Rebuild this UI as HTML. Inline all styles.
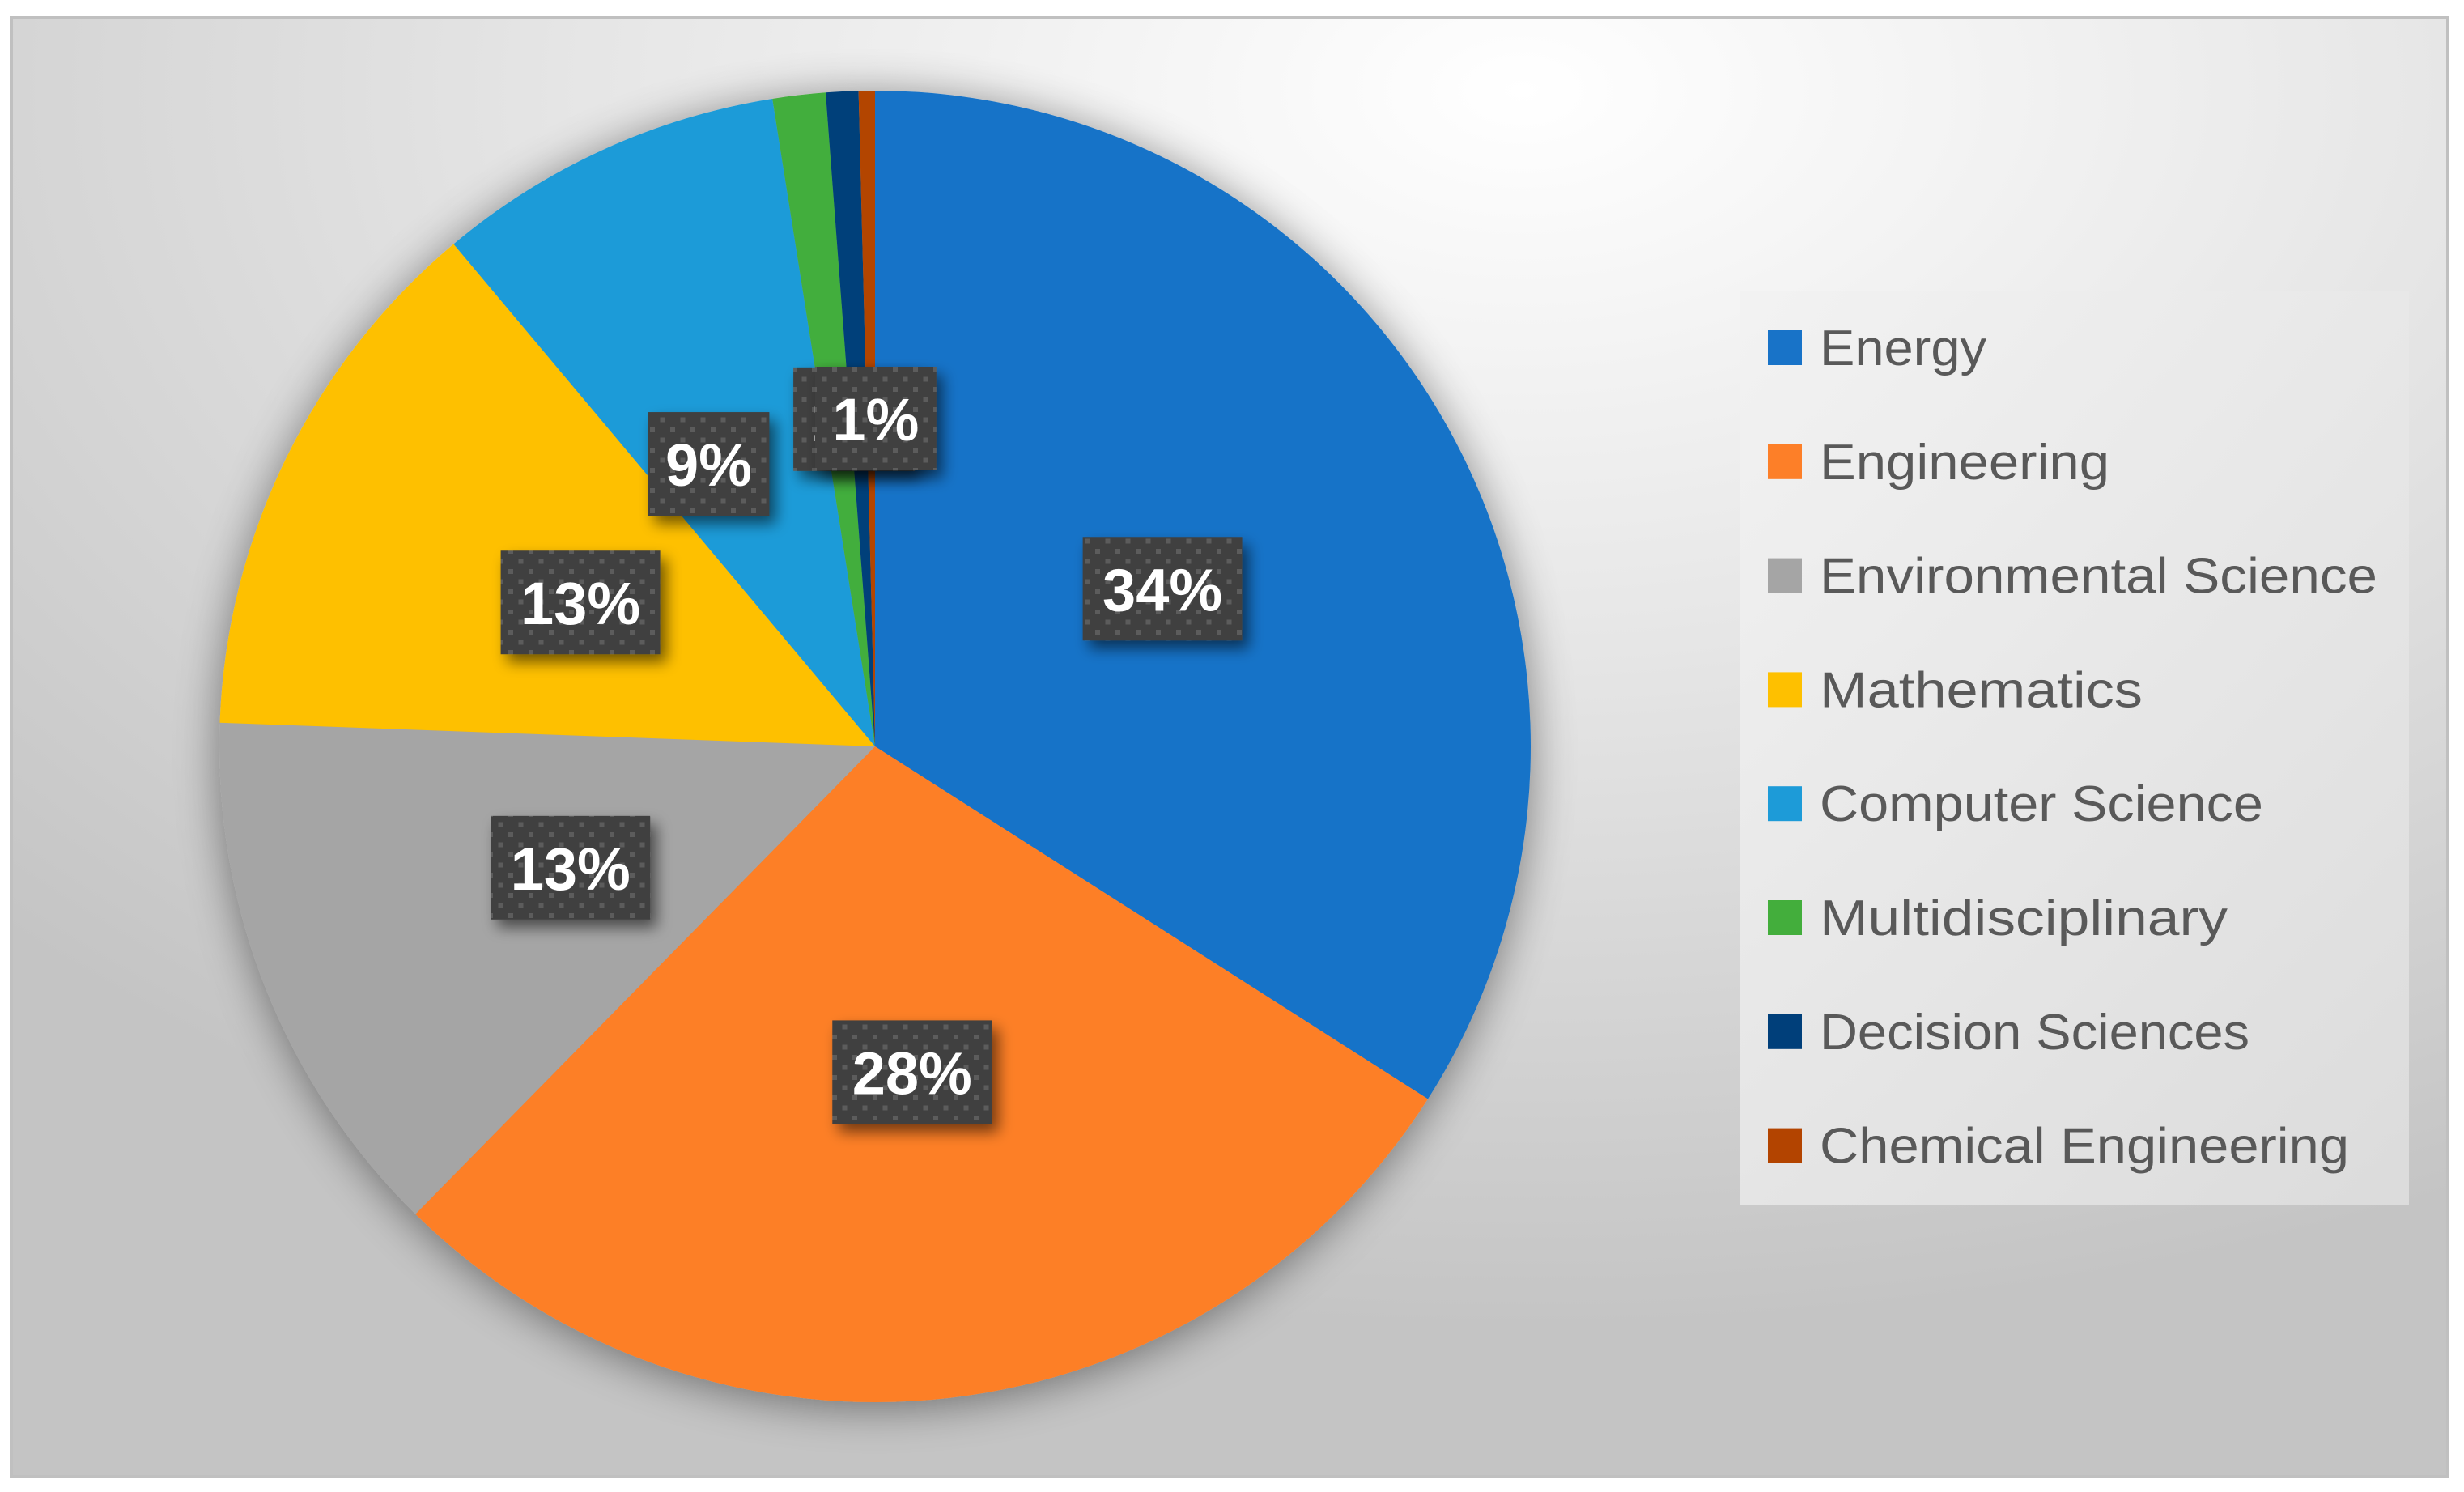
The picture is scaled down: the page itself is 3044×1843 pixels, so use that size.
<!DOCTYPE html>
<html><head><meta charset="utf-8"><style>
html,body{margin:0;padding:0;background:#fff;}
svg{display:block;}
</style></head><body>
<svg width="3044" height="1843" viewBox="0 0 3044 1843" xmlns="http://www.w3.org/2000/svg">
<defs>
<radialGradient id="bg" cx="0.62" cy="0.05" r="0.85" gradientUnits="objectBoundingBox">
<stop offset="0" stop-color="#ffffff"/><stop offset="0.45" stop-color="#e6e6e6"/><stop offset="1" stop-color="#c4c4c4"/>
</radialGradient>
<linearGradient id="lg" x1="0" y1="0" x2="1" y2="1">
<stop offset="0" stop-color="#f2f2f2" stop-opacity="0.9"/><stop offset="1" stop-color="#dedede" stop-opacity="0.9"/>
</linearGradient>
<filter id="pieShadow" x="-20%" y="-20%" width="140%" height="140%">
<feGaussianBlur in="SourceAlpha" stdDeviation="28"/><feOffset dx="0" dy="6"/>
<feComponentTransfer><feFuncA type="linear" slope="0.45"/></feComponentTransfer>
<feMerge><feMergeNode/><feMergeNode in="SourceGraphic"/></feMerge>
</filter>
<filter id="lblShadow" x="-30%" y="-30%" width="160%" height="160%">
<feGaussianBlur in="SourceAlpha" stdDeviation="9"/><feOffset dx="8" dy="10"/>
<feComponentTransfer><feFuncA type="linear" slope="0.55"/></feComponentTransfer>
<feMerge><feMergeNode/><feMergeNode in="SourceGraphic"/></feMerge>
</filter>
<pattern id="dots" width="25" height="25" patternUnits="userSpaceOnUse">
<rect width="25" height="25" fill="#404040"/>
<rect x="3" y="3" width="6" height="6" fill="#5c5c5c"/>
<rect x="15.5" y="15.5" width="6" height="6" fill="#5c5c5c"/>
</pattern>
</defs>
<rect x="14" y="22" width="3010" height="1802" fill="url(#bg)" stroke="#c0c0c0" stroke-width="4"/>
<g id="pie" filter="url(#pieShadow)"></g>
<g id="labels"></g>
<rect x="2149" y="360" width="827" height="1128" fill="url(#lg)"/>
<g id="legend"></g>
</svg>
<script>
const categories = ["Energy","Engineering","Environmental Science","Mathematics","Computer Science","Multidisciplinary","Decision Sciences","Chemical Engineering"];
const values = [34.0, 28.3, 13.2, 13.3, 8.6, 1.3, 0.8, 0.4];
const colors = ["#1873c8","#fd7f28","#a5a5a5","#fec000","#1d9bd8","#43ae3c","#003f7a","#b34400"];
const legendWidths = [206, 358, 689, 399, 548, 504, 531, 654];
const labelNudgeDeg = [0,0,0,0,-6,3,3,0];

const NS = "http://www.w3.org/2000/svg";
const cx = 1081, cy = 922, R = 810;
const total = values.reduce((a,b)=>a+b,0);
const pie = document.getElementById('pie');
const labels = document.getElementById('labels');
const legend = document.getElementById('legend');
function pt(angDeg, r){ const a = angDeg*Math.PI/180; return [cx + r*Math.sin(a), cy - r*Math.cos(a)]; }
let acc = 0;
const mids = [];
values.forEach((v,i)=>{
  const a0 = acc/total*360, a1 = (acc+v)/total*360; acc += v;
  mids.push((a0+a1)/2);
  const p0 = pt(a0,R), p1 = pt(a1,R);
  const large = (a1-a0) > 180 ? 1 : 0;
  const path = document.createElementNS(NS,'path');
  path.setAttribute('d', `M${cx},${cy} L${p0[0]},${p0[1]} A${R},${R} 0 ${large} 1 ${p1[0]},${p1[1]} Z`);
  path.setAttribute('fill', colors[i]);
  
  
  pie.appendChild(path);
});
values.forEach((v,i)=>{
  const txt = Math.round(v/total*100) + '%';
  if (Math.round(v/total*100) < 1) return;
  const [x,y] = pt(mids[i] + labelNudgeDeg[i], R*0.5);
  const w = txt.length === 2 ? 150 : 197, h = 128;
  const g = document.createElementNS(NS,'g');
  
  
  g.setAttribute('filter','url(#lblShadow)');
  const r = document.createElementNS(NS,'rect');
  r.setAttribute('x', x - w/2); r.setAttribute('y', y - h/2);
  r.setAttribute('width', w); r.setAttribute('height', h);
  r.setAttribute('fill', 'url(#dots)');
  g.appendChild(r);
  const t = document.createElementNS(NS,'text');
  t.setAttribute('x', x); t.setAttribute('y', y + 27);
  t.setAttribute('text-anchor','middle');
  t.setAttribute('font-family','"Liberation Sans", sans-serif');
  t.setAttribute('font-weight','bold');
  t.setAttribute('font-size','74');
  t.setAttribute('fill','#ffffff');
  t.textContent = txt;
  g.appendChild(t);
  labels.appendChild(g);
});
categories.forEach((c,i)=>{
  const yc = 429 + i*140.8;
  const g = document.createElementNS(NS,'g');
  
  
  const s = document.createElementNS(NS,'rect');
  s.setAttribute('x', 2184); s.setAttribute('y', yc - 21);
  s.setAttribute('width', 42); s.setAttribute('height', 43);
  s.setAttribute('fill', colors[i]);
  g.appendChild(s);
  const t = document.createElementNS(NS,'text');
  t.setAttribute('x', 2248); t.setAttribute('y', yc + 22);
  t.setAttribute('font-family','"Liberation Sans", sans-serif');
  t.setAttribute('font-size','62');
  t.setAttribute('fill','#595959');
  t.setAttribute('textLength', legendWidths[i]);
  t.setAttribute('lengthAdjust','spacingAndGlyphs');
  t.textContent = c;
  g.appendChild(t);
  legend.appendChild(g);
});
</script>
</body></html>
